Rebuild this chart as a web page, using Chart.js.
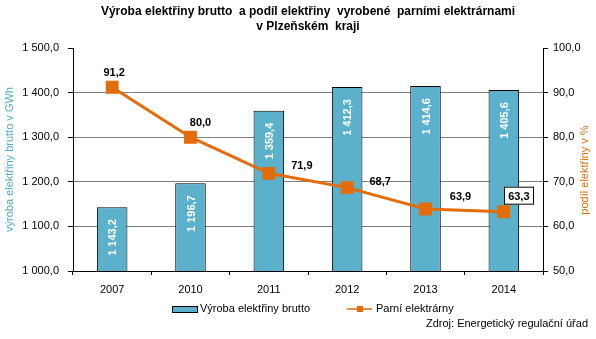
<!DOCTYPE html>
<html>
<head>
<meta charset="utf-8">
<script src="https://cdn.jsdelivr.net/npm/chart.js@4/dist/chart.umd.min.js"></script>
<style>
  html, body { margin: 0; padding: 0; background: #fff; }
  #wrap { width: 596px; height: 339px; position: relative; }
</style>
</head>
<body>
<div id="wrap"><canvas id="chart" width="596" height="339"></canvas></div>
<script>
// data
const years = ['2007', '2010', '2011', '2012', '2013', '2014'];
const production = [1143.2, 1196.7, 1359.4, 1412.3, 1414.6, 1405.6];
const steamShare = [91.2, 80.0, 71.9, 68.7, 63.9, 63.3];
const leftTicks = [1000, 1100, 1200, 1300, 1400, 1500];
const rightTicks = [50, 60, 70, 80, 90, 100];

// label offsets for the line values (styling only)
const lineLabelShift = [[2, -15], [10, -15], [33, -8], [33, -7], [35, -13], [15, -16]];

const barColor = '#5bb1cb';
const lineColor = '#e46c0a';
const font = '"Liberation Sans", Arial, sans-serif';

function czNum(v) {
    const parts = v.toFixed(1).split('.');
    const int = parts[0].replace(/\B(?=(\d{3})+(?!\d))/g, ' ');
    return int + ',' + parts[1];
}

const labelsPlugin = {
    id: 'labels',
    afterDatasetsDraw(chart) {
        const ctx = chart.ctx;
        ctx.save();
        // bar values, rotated, inside end
        const barMeta = chart.getDatasetMeta(0);
        ctx.font = 'bold 11px ' + font;
        ctx.fillStyle = '#fff';
        barMeta.data.forEach((bar, i) => {
            ctx.save();
            ctx.translate(bar.x, bar.y + 12);
            ctx.rotate(-Math.PI / 2);
            ctx.textAlign = 'right';
            ctx.textBaseline = 'middle';
            ctx.fillText(czNum(production[i]), 0, 1);
            ctx.restore();
        });
        // line values
        const lineMeta = chart.getDatasetMeta(1);
        ctx.textAlign = 'center';
        ctx.textBaseline = 'middle';
        lineMeta.data.forEach((pt, i) => {
            const x = pt.x + lineLabelShift[i][0];
            const y = pt.y + lineLabelShift[i][1];
            const txt = czNum(steamShare[i]);
            if (i === steamShare.length - 1) {
                const w = ctx.measureText(txt).width + 8;
                ctx.fillStyle = '#fff';
                ctx.fillRect(x - w / 2, y - 9, w, 18);
                ctx.strokeStyle = '#000';
                ctx.lineWidth = 1;
                ctx.strokeRect(Math.round(x - w / 2) + 0.5, y - 9 + 0.5, Math.round(w), 17);
            }
            ctx.fillStyle = '#000';
            ctx.fillText(txt, x, y + 1);
        });
        ctx.restore();
    },
    afterDraw(chart) {
        const ctx = chart.ctx;
        const area = chart.chartArea;
        ctx.save();
        // title
        ctx.fillStyle = '#000';
        ctx.font = 'bold 12px ' + font;
        ctx.textAlign = 'center';
        ctx.textBaseline = 'middle';
        const cx = (area.left + area.right) / 2;
        ctx.fillText('Výroba elektřiny brutto  a podíl elektřiny  vyrobené  parními elektrárnami', cx, 12);
        ctx.fillText('v Plzeňském  kraji', cx, 27);

        // axis titles
        ctx.font = '11px ' + font;
        ctx.save();
        ctx.translate(10, (area.top + area.bottom) / 2);
        ctx.rotate(-Math.PI / 2);
        ctx.fillStyle = '#4bacc6';
        ctx.fillText('výroba elektřiny brutto v GWh', 0, 0);
        ctx.restore();
        ctx.save();
        ctx.translate(585, 170);
        ctx.rotate(-Math.PI / 2);
        ctx.fillStyle = lineColor;
        ctx.fillText('podíl elektřiny v %', 0, 0);
        ctx.restore();

        // legend
        const ly = 309;
        ctx.fillStyle = barColor;
        ctx.fillRect(172, ly - 3, 25, 6);
        ctx.strokeStyle = '#000';
        ctx.lineWidth = 1;
        ctx.strokeRect(172.5, ly - 2.5, 25, 6);
        ctx.fillStyle = '#000';
        ctx.textAlign = 'left';
        ctx.fillText('Výroba elektřiny brutto', 200, ly);
        ctx.strokeStyle = lineColor;
        ctx.lineWidth = 1.5;
        ctx.beginPath();
        ctx.moveTo(347, ly);
        ctx.lineTo(372, ly);
        ctx.stroke();
        ctx.fillStyle = lineColor;
        ctx.fillRect(357, ly - 3, 6, 6);
        ctx.fillStyle = '#000';
        ctx.fillText('Parní elektrárny', 376, ly);

        // source
        ctx.textAlign = 'right';
        ctx.fillText('Zdroj: Energetický regulační úřad', 588, 324);
        ctx.restore();
    }
};

new Chart(document.getElementById('chart'), {
    data: {
        labels: years,
        datasets: [{
            type: 'bar',
            label: 'Výroba elektřiny brutto',
            data: production,
            backgroundColor: barColor,
            borderColor: '#000',
            borderWidth: 1,
            barPercentage: 0.39,
            categoryPercentage: 1,
            yAxisID: 'y',
            order: 2
        }, {
            type: 'line',
            label: 'Parní elektrárny',
            data: steamShare,
            borderColor: lineColor,
            backgroundColor: lineColor,
            borderWidth: 3,
            pointStyle: 'rect',
            pointRadius: 7,
            pointHoverRadius: 7,
            tension: 0,
            yAxisID: 'y1',
            order: 1
        }]
    },
    options: {
        responsive: false,
        animation: false,
        events: [],
        layout: { padding: { top: 48, left: 0, right: 0, bottom: 0 } },
        plugins: {
            legend: { display: false },
            title: { display: false },
            tooltip: { enabled: false }
        },
        scales: {
            x: {
                offset: true,
                afterFit(scale) { scale.height = 68; },
                grid: {
                    offset: true,
                    drawOnChartArea: false,
                    tickLength: 4,
                    tickColor: '#000'
                },
                border: { color: '#000', width: 1 },
                ticks: { color: '#000', font: { size: 11, family: font }, padding: 8 }
            },
            y: {
                position: 'left',
                min: leftTicks[0],
                max: leftTicks[leftTicks.length - 1],
                afterFit(scale) { scale.width = 73; },
                afterBuildTicks(scale) { scale.ticks = leftTicks.map(v => ({ value: v })); },
                grid: {
                    color: ctx => (ctx.tick && (ctx.tick.value === 1000 || ctx.tick.value === 1500)) ? 'rgba(0,0,0,0)' : '#808080',
                    tickColor: '#000',
                    tickLength: 5,
                    borderDash: [4, 3],
                    tickBorderDash: []
                },
                border: { color: '#000', width: 1 },
                ticks: {
                    color: '#000',
                    font: { size: 11, family: font },
                    padding: 9,
                    callback: v => czNum(v)
                }
            },
            y1: {
                position: 'right',
                min: rightTicks[0],
                max: rightTicks[rightTicks.length - 1],
                afterFit(scale) { scale.width = 53; },
                afterBuildTicks(scale) { scale.ticks = rightTicks.map(v => ({ value: v })); },
                grid: {
                    drawOnChartArea: false,
                    tickColor: '#000',
                    tickLength: 5
                },
                border: { color: '#000', width: 1 },
                ticks: {
                    color: '#000',
                    font: { size: 11, family: font },
                    padding: 5,
                    callback: v => czNum(v)
                }
            }
        }
    },
    plugins: [labelsPlugin]
});
</script>
</body>
</html>
